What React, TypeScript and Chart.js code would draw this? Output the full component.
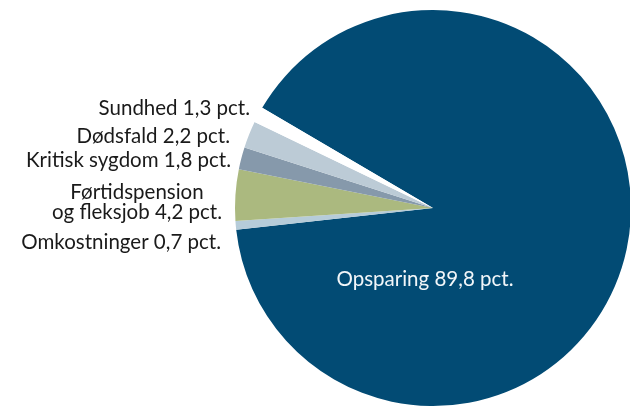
import React, { useEffect, useRef } from "react";
import { Chart, registerables } from "chart.js";

Chart.register(...registerables);

// ---- data ----
const categories = [
  ["Opsparing"],
  ["Omkostninger"],
  ["Førtidspension", "og fleksjob"],
  ["Kritisk sygdom"],
  ["Dødsfald"],
  ["Sundhed"],
];
const shares = [89.8, 0.7, 4.2, 1.8, 2.2, 1.3];
const unit = "pct.";

// ---- styles ----
const sliceColors = ["#024b74", "#b6ccd9", "#abb97f", "#8699ab", "#bccbd6", "#ffffff"];
const labelColors = ["#f2f6f9", "#1a1a1a", "#1a1a1a", "#1a1a1a", "#1a1a1a", "#1a1a1a"];
// label anchor offsets relative to pie center (px): [dx, dy of first baseline, align]
const labelLayout: [number, number, CanvasTextAlign][] = [
  [-8, 78, "center"],
  [-212, 41, "right"],
  [-296, -9, "center"],
  [-202, -41, "right"],
  [-203, -65, "right"],
  [-183, -93, "right"],
];
const lineHeight = 19.5;
const FONT = "20.5px Lato";

const fmt = (v: number) => v.toFixed(1).replace(".", ",");

const labelPlugin = {
  id: "sliceLabels",
  afterDatasetsDraw(chart: any) {
    const meta = chart.getDatasetMeta(0);
    const arc0 = meta.data[0];
    if (!arc0) return;
    const { x, y } = arc0.getProps(["x", "y"], true);
    const ctx = chart.ctx;
    ctx.save();
    ctx.font = FONT;
    ctx.textBaseline = "alphabetic";
    categories.forEach((lines, i) => {
      const [dx, dy, align] = labelLayout[i];
      ctx.fillStyle = labelColors[i];
      ctx.textAlign = align;
      const textLines = lines.slice();
      textLines[textLines.length - 1] = `${textLines[textLines.length - 1]} ${fmt(shares[i])} ${unit}`;
      textLines.forEach((t, j) => {
        ctx.fillText(t, x + dx, y + dy + j * lineHeight);
      });
    });
    ctx.restore();
  },
};

export default function App() {
  const ref = useRef<HTMLCanvasElement>(null);
  useEffect(() => {
    if (!ref.current) return;
    const chart = new Chart(ref.current, {
      type: "pie",
      data: {
        labels: categories.map((c) => c.join(" ")),
        datasets: [
          {
            data: shares,
            backgroundColor: sliceColors,
            borderWidth: 0,
            hoverOffset: 0,
          },
        ],
      },
      options: {
        animation: false,
        responsive: false,
        rotation: -59.6,
        layout: { padding: { left: 235, right: 9, top: 10, bottom: 1 } },
        plugins: {
          legend: { display: false },
          tooltip: { enabled: false },
        },
        events: [],
      },
      plugins: [labelPlugin],
    });
    return () => chart.destroy();
  }, []);
  return (
    <div
      style={{
        position: "fixed",
        left: 0,
        top: 0,
        width: 630,
        height: 407,
        overflow: "hidden",
        background: "#ffffff",
      }}
    >
      <canvas ref={ref} width={640} height={407} style={{ display: "block" }} />
    </div>
  );
}
